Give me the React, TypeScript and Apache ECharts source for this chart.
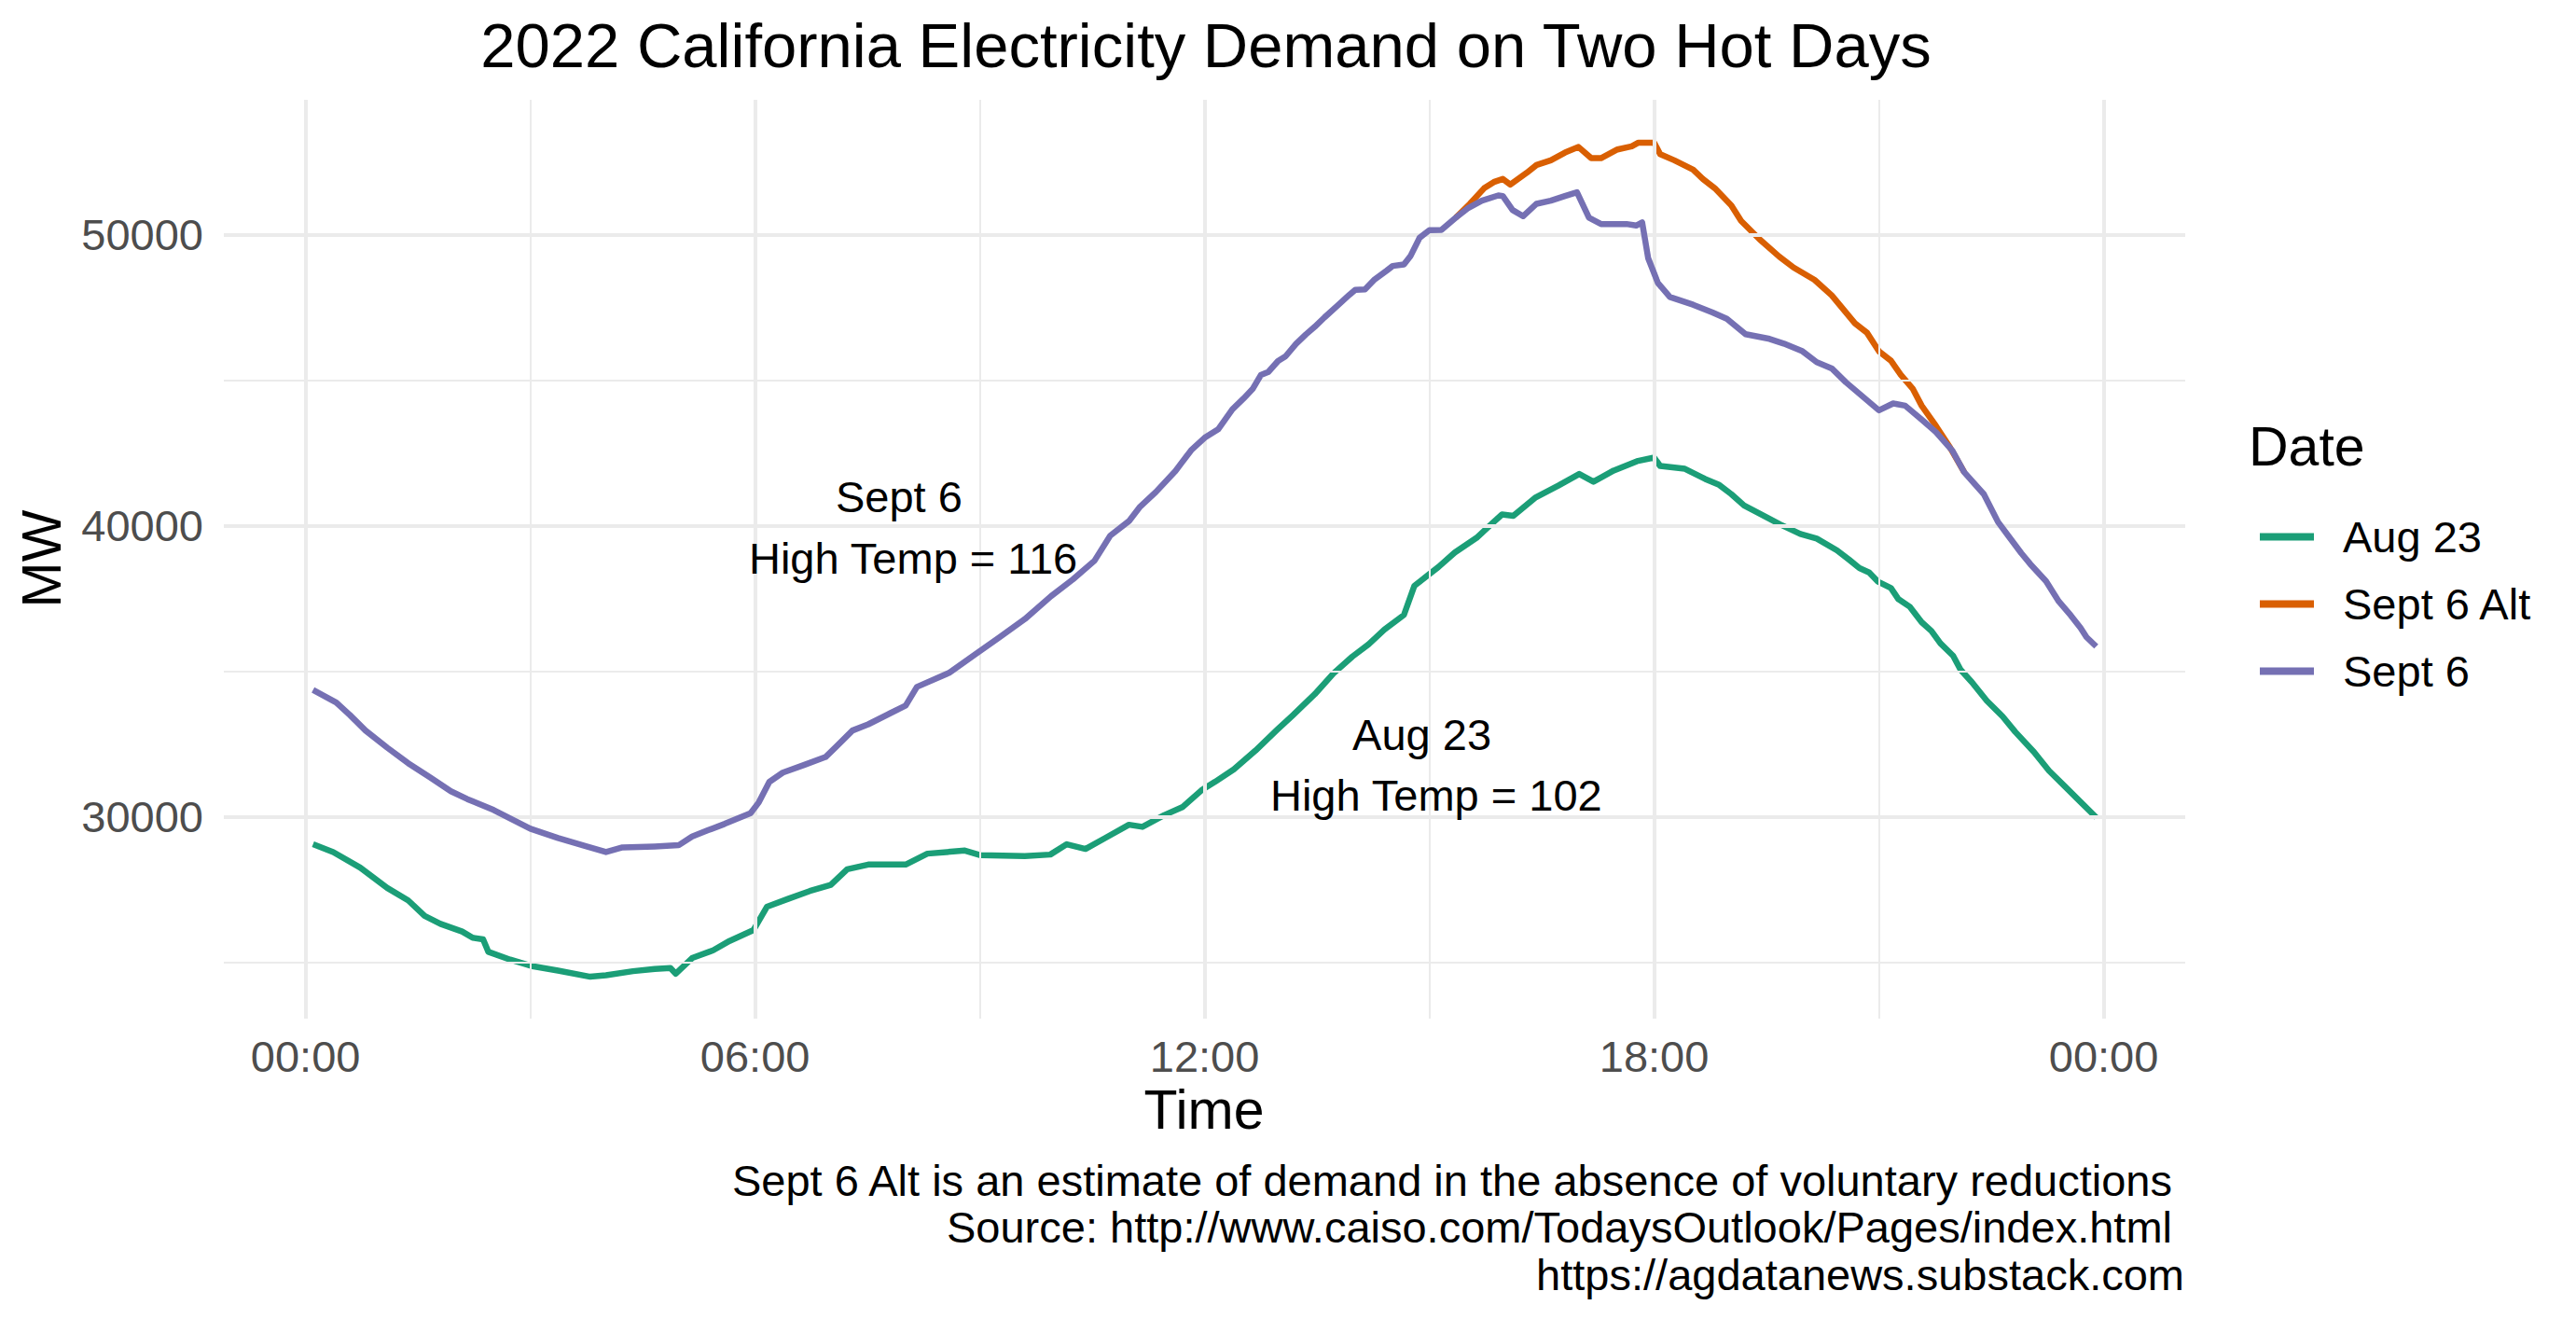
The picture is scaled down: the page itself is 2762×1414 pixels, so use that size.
import React, { useEffect, useRef } from "react";
import * as echarts from "echarts";

// ---- Data (hours since midnight, MW) ----
const aug23Hours = [
  0.1, 0.37, 0.73, 1.09, 1.37, 1.59, 1.8, 2.09, 2.23, 2.37, 2.44, 2.73, 3.01, 3.37, 3.8, 4.01, 4.37, 4.66, 4.87, 4.94,
  5.16, 5.44, 5.66, 5.98, 6.16, 6.44, 6.73, 7.01, 7.23, 7.51, 8.01, 8.3, 8.8, 9.01, 9.6, 9.94, 10.16, 10.41, 10.67,
  10.99, 11.17, 11.46, 11.71, 11.96, 12.14, 12.39, 12.68, 12.97, 13.18, 13.47, 13.72, 13.97, 14.19, 14.4, 14.66, 14.8,
  15.12, 15.34, 15.63, 15.84, 15.97, 16.12, 16.41, 16.72, 17.0, 17.19, 17.46, 17.77, 18.0, 18.08, 18.41, 18.68, 18.86,
  19.03, 19.2, 19.42, 19.68, 19.95, 20.17, 20.44, 20.6, 20.74, 20.87, 20.99, 21.16, 21.26, 21.41, 21.57, 21.7, 21.82,
  21.99, 22.09, 22.24, 22.44, 22.65, 22.82, 23.07, 23.27, 23.48, 23.69, 23.9,
];
const aug23MW = [
  29058, 28790, 28254, 27558, 27130, 26594, 26326, 26059, 25845, 25791, 25362, 25095, 24880, 24720, 24506, 24560, 24698,
  24773, 24806, 24613, 25148, 25416, 25737, 26112, 26915, 27183, 27451, 27665, 28200, 28361, 28361, 28736, 28843, 28683,
  28654, 28704, 29058, 28897, 29270, 29729, 29657, 30058, 30345, 30918, 31205, 31635, 32280, 32996, 33498, 34214, 34931,
  35504, 35934, 36435, 36937, 37940, 38585, 39086, 39588, 40090, 40390, 40340, 40960, 41380, 41782, 41515, 41900, 42220,
  42345, 42058, 41960, 41610, 41420, 41088, 40700, 40400, 40050, 39720, 39560, 39158, 38840, 38547, 38398, 38078, 37864,
  37480, 37223, 36689, 36390, 35963, 35536, 35055, 34628, 33987, 33453, 32919, 32225, 31584, 31050, 30516, 29982,
];

const sept6Hours = [
  0.1, 0.41, 0.59, 0.8, 1.09, 1.37, 1.66, 1.94, 2.16, 2.51, 3.0, 3.37, 3.73, 4.01, 4.23, 4.66, 4.98, 5.16, 5.37, 5.59,
  5.94, 6.05, 6.19, 6.37, 6.66, 6.94, 7.09, 7.3, 7.51, 7.8, 8.01, 8.16, 8.59, 8.94, 9.25, 9.6, 9.95, 10.24, 10.53, 10.74,
  10.99, 11.14, 11.35, 11.61, 11.82, 12.0, 12.18, 12.37, 12.52, 12.64, 12.75, 12.85, 12.98, 13.08, 13.22, 13.35, 13.47,
  13.6, 13.76, 13.93, 14.01, 14.14, 14.26, 14.43, 14.51, 14.66, 14.75, 14.87, 15.0, 15.16, 15.35, 15.51, 15.7, 15.92,
  15.98, 16.11, 16.25, 16.43, 16.62, 16.81, 16.97, 17.13, 17.29, 17.63, 17.76, 17.84, 17.92, 18.05, 18.21, 18.52, 18.78,
  18.97, 19.22, 19.54, 19.73, 19.98, 20.17, 20.37, 20.56, 20.78, 21.0, 21.19, 21.35, 21.57, 21.76, 21.98, 22.14, 22.4,
  22.59, 22.73, 22.9, 23.02, 23.23, 23.4, 23.56, 23.69, 23.77, 23.9,
];
const sept6MW = [
  34359, 33930, 33502, 32967, 32378, 31842, 31360, 30878, 30610, 30236, 29593, 29272, 29004, 28790, 28950, 28983, 29025,
  29325, 29540, 29754, 30128, 30500, 31200, 31521, 31790, 32056, 32431, 32967, 33180, 33556, 33823, 34466, 34948, 35590,
  36150, 36794, 37582, 38155, 38800, 39660, 40161, 40663, 41164, 41881, 42597, 43027, 43314, 44003, 44377, 44699, 45180,
  45287, 45663, 45823, 46251, 46573, 46840, 47162, 47537, 47933, 48104, 48126, 48447, 48768, 48929, 48983, 49280, 49900,
  50158, 50170, 50585, 50905, 51171, 51353, 51331, 50851, 50638, 51065, 51171, 51331, 51460, 50585, 50371, 50371, 50318,
  50425, 49197, 48344, 47864, 47597, 47330, 47117, 46583, 46423, 46263, 45997, 45623, 45410, 44930, 44449, 43969, 44204,
  44129, 43649, 43222, 42582, 41835, 41088, 40130, 39648, 39060, 38686, 38099, 37405, 36924, 36497, 36177, 35856,
];

const sept6AltHours = [
  15.35, 15.54, 15.73, 15.86, 15.98, 16.08, 16.3, 16.43, 16.62, 16.81, 16.99, 17.16, 17.29, 17.51, 17.7, 17.79, 18.0,
  18.08, 18.27, 18.52, 18.65, 18.81, 19.03, 19.16, 19.41, 19.67, 19.86, 20.14, 20.37, 20.68, 20.84, 21.0, 21.16, 21.29,
  21.45, 21.57, 21.76, 21.95, 22.14,
];
const sept6AltMW = [
  50585, 51065, 51598, 51812, 51918, 51726, 52132, 52398, 52558, 52825, 53017, 52633, 52633, 52932, 53039, 53167, 53167,
  52772, 52558, 52238, 51918, 51598, 51011, 50478, 49838, 49251, 48877, 48451, 47917, 46957, 46637, 45997, 45676, 45196,
  44716, 44129, 43436, 42689, 41835,
];

const seriesNames = ["Aug 23", "Sept 6 Alt", "Sept 6"];
const seriesColors = ["#1B9E77", "#D95F02", "#7570B3"];

const xTickHours = [0, 6, 12, 18, 24];
const xMinorHours = [3, 9, 15, 21];
const yTickMW = [30000, 40000, 50000];
const yMinorMW = [25000, 35000, 45000];

const annotText = ["Sept 6", "High Temp = 116", "Aug 23", "High Temp = 102"];
const annotHours = [7.92, 8.11, 14.9, 15.09];
const annotMW = [41000, 38900, 32840, 30730];

const titleText = "2022 California Electricity Demand on Two Hot Days";
const captionLines = [
  "Sept 6 Alt is an estimate of demand in the absence of voluntary reductions",
  "Source: http://www.caiso.com/TodaysOutlook/Pages/index.html",
  "https://agdatanews.substack.com",
];

const FONT = '"Liberation Sans", Arial, Helvetica, sans-serif';
const SMALL = 47;
const MEDIUM = 59;

function pairs(h: number[], v: number[]) {
  return h.map((x, i) => [x, v[i]]);
}
function fmtHour(h: number) {
  const hh = ((Math.round(h) % 24) + 24) % 24;
  return String(hh).padStart(2, "0") + ":00";
}

export default function App() {
  const ref = useRef<HTMLDivElement>(null);
  useEffect(() => {
    if (!ref.current) return;
    const chart = echarts.init(ref.current, undefined, { renderer: "svg" });

    const gridLines: any[] = [];
    xTickHours.forEach((h) => gridLines.push({ xAxis: h, lineStyle: { width: 4 } }));
    xMinorHours.forEach((h) => gridLines.push({ xAxis: h, lineStyle: { width: 2 } }));
    yTickMW.forEach((v) => gridLines.push({ yAxis: v, lineStyle: { width: 4 } }));
    yMinorMW.forEach((v) => gridLines.push({ yAxis: v, lineStyle: { width: 2 } }));

    const dataSets = [pairs(aug23Hours, aug23MW), pairs(sept6AltHours, sept6AltMW), pairs(sept6Hours, sept6MW)];

    const option: any = {
      animation: false,
      backgroundColor: "#ffffff",
      textStyle: { fontFamily: FONT },
      grid: { left: 240, top: 107, width: 2103, height: 985, containLabel: false },
      xAxis: {
        type: "value",
        min: -1.0905,
        max: 25.088,
        axisLine: { show: false },
        axisTick: { show: false },
        splitLine: { show: false },
        axisLabel: {
          customValues: xTickHours,
          formatter: (v: number) => fmtHour(v),
          fontSize: SMALL,
          color: "#4D4D4D",
          fontFamily: FONT,
          margin: 17,
        },
      },
      yAxis: {
        type: "value",
        min: 23067,
        max: 54638,
        axisLine: { show: false },
        axisTick: { show: false },
        splitLine: { show: false },
        axisLabel: {
          customValues: yTickMW,
          formatter: (v: number) => String(v),
          fontSize: SMALL,
          color: "#4D4D4D",
          fontFamily: FONT,
          margin: 22,
        },
      },
      legend: {
        data: seriesNames,
        orient: "vertical",
        left: 2418,
        top: 547,
        itemWidth: 58,
        itemHeight: 8,
        itemGap: 25,
        icon: "rect",
        selectedMode: false,
        textStyle: { fontSize: SMALL, color: "#000000", fontFamily: FONT, padding: [0, 0, 0, 26] },
      },
      series: [
        {
          type: "line",
          name: "__grid",
          data: [],
          z: 1,
          silent: true,
          markLine: {
            silent: true,
            symbol: ["none", "none"],
            label: { show: false },
            emphasis: { disabled: true },
            lineStyle: { color: "#EBEBEB", type: "solid" },
            data: gridLines,
          },
        },
        ...seriesNames.map((name, i) => ({
          type: "line",
          name,
          data: dataSets[i],
          showSymbol: false,
          symbol: "none",
          z: 3 + i,
          lineStyle: { color: seriesColors[i], width: 6.5, join: "round" },
          itemStyle: { color: seriesColors[i] },
          emphasis: { disabled: true },
        })),
      ],
    };
    chart.setOption(option);

    const annotGraphics = annotText.map((t, i) => {
      const p = chart.convertToPixel({ gridIndex: 0 }, [annotHours[i], annotMW[i]]) as number[];
      return {
        type: "text",
        x: p[0],
        y: p[1],
        style: { text: t, fontSize: SMALL, fill: "#000", fontFamily: FONT, align: "center", verticalAlign: "middle" },
        z: 10,
      };
    });

    chart.setOption({
      graphic: [
        {
          type: "text",
          x: 1293,
          y: 48,
          style: { text: titleText, fontSize: 67, fill: "#000", fontFamily: FONT, align: "center", verticalAlign: "middle" },
        },
        {
          type: "text",
          x: 1291,
          y: 1190,
          style: { text: "Time", fontSize: MEDIUM, fill: "#000", fontFamily: FONT, align: "center", verticalAlign: "middle" },
        },
        {
          type: "text",
          x: 45,
          y: 599,
          rotation: Math.PI / 2,
          style: { text: "MW", fontSize: MEDIUM, fill: "#000", fontFamily: FONT, align: "center", verticalAlign: "middle" },
        },
        {
          type: "text",
          x: 2411,
          y: 479,
          style: { text: "Date", fontSize: MEDIUM, fill: "#000", fontFamily: FONT, align: "left", verticalAlign: "middle" },
        },
        {
          type: "text",
          x: 2329,
          y: 1265,
          style: { text: captionLines[0], fontSize: SMALL, fill: "#000", fontFamily: FONT, align: "right", verticalAlign: "middle" },
        },
        {
          type: "text",
          x: 2329,
          y: 1315,
          style: { text: captionLines[1], fontSize: SMALL, fill: "#000", fontFamily: FONT, align: "right", verticalAlign: "middle" },
        },
        {
          type: "text",
          x: 2342,
          y: 1366,
          style: { text: captionLines[2], fontSize: SMALL, fill: "#000", fontFamily: FONT, align: "right", verticalAlign: "middle" },
        },
        ...annotGraphics,
      ],
    });

    return () => chart.dispose();
  }, []);

  return (
    <div
      ref={ref}
      style={{ position: "fixed", left: 0, top: 0, width: 2762, height: 1414, background: "#ffffff" }}
    />
  );
}
